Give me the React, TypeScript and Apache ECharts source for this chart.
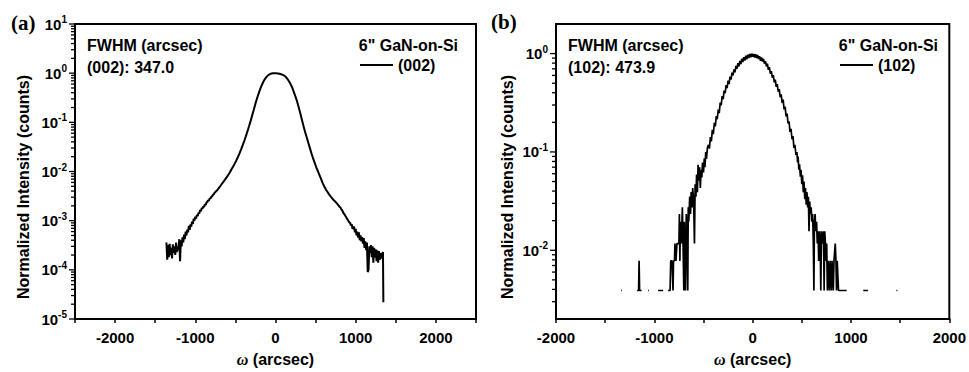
import React, { useEffect, useRef } from 'react';
import * as echarts from 'echarts';

// ---------- text ----------
const panelLetters = ['(a)', '(b)'];
const fwhmTitle = 'FWHM (arcsec)';
const fwhmValues = ['(002): 347.0', '(102): 473.9'];
const sampleName = '6" GaN-on-Si';
const seriesNames = ['(002)', '(102)'];
const yAxisTitle = 'Normalized Intensity (counts)';
const xAxisTitle = '{w|ω} (arcsec)';

// ---------- axes ----------
const xLabelValues = [-2000, -1000, 0, 1000, 2000];
const xRangeA = [-2500, 2500];
const xRangeB = [-2000, 2000];
const yRangeA = [1e-5, 10];
const yRangeB = [0.002, 2];
const yMajorTicksA = [1e-5, 1e-4, 1e-3, 1e-2, 1e-1, 1, 10];
const yMajorTicksB = [1e-2, 1e-1, 1];
const minorMultipliers = [2, 3, 4, 5, 6, 7, 8, 9];
const minorDecadesA = [1e-5, 1e-4, 1e-3, 1e-2, 1e-1, 1];
const minorDecadesB = [1e-3, 1e-2, 1e-1, 1];

// ---------- data: omega (arcsec), normalized intensity ----------
const rocking002: [number, number][] = [
  [-1360, 3.6e-4], [-1350, 1.6e-4], [-1340, 3.2e-4], [-1330, 1.8e-4], [-1320, 3.4e-4], [-1310, 2.0e-4],
  [-1300, 2.8e-4], [-1290, 1.7e-4], [-1280, 3.3e-4], [-1270, 2.2e-4], [-1260, 3.0e-4], [-1250, 2.0e-4],
  [-1240, 3.6e-4], [-1230, 2.3e-4], [-1220, 3.0e-4], [-1210, 2.5e-4], [-1200, 4.2e-4], [-1190, 1.5e-4],
  [-1180, 4.0e-4], [-1170, 3.0e-4], [-1160, 4.6e-4], [-1150, 3.6e-4], [-1140, 5.2e-4], [-1130, 4.2e-4],
  [-1120, 6.0e-4], [-1110, 5.0e-4], [-1100, 6.6e-4], [-1090, 5.8e-4], [-1080, 7.8e-4], [-1070, 6.5e-4],
  [-1060, 8.4e-4], [-1050, 7.6e-4], [-1040, 9.6e-4], [-1030, 8.6e-4], [-1020, 1.1e-3], [-1010, 1.0e-3],
  [-1000, 1.2e-3], [-990, 1.1e-3], [-980, 1.3e-3], [-970, 1.25e-3], [-960, 1.45e-3], [-950, 1.4e-3],
  [-940, 1.65e-3], [-930, 1.55e-3], [-920, 1.8e-3], [-910, 1.75e-3], [-900, 1.95e-3], [-890, 1.9e-3],
  [-880, 2.15e-3], [-870, 2.1e-3], [-860, 2.35e-3], [-850, 2.4e-3], [-840, 2.6e-3], [-830, 2.55e-3],
  [-820, 2.85e-3], [-810, 2.8e-3], [-800, 3.1e-3], [-790, 3.1e-3], [-780, 3.4e-3], [-770, 3.4e-3],
  [-760, 3.7e-3], [-750, 3.8e-3], [-740, 4.0e-3], [-730, 4.07e-3], [-710, 4.52e-3], [-690, 5.01e-3],
  [-670, 5.56e-3], [-650, 6.17e-3], [-630, 6.84e-3], [-610, 7.59e-3], [-590, 8.51e-3], [-570, 9.55e-3],
  [-550, 1.1e-2], [-530, 1.245e-2], [-510, 1.43e-2], [-490, 1.66e-2], [-470, 1.95e-2], [-450, 2.32e-2],
  [-430, 2.79e-2], [-410, 3.39e-2], [-390, 4.17e-2], [-370, 5.19e-2], [-350, 6.53e-2], [-330, 8.32e-2],
  [-310, 0.107], [-290, 0.14], [-270, 0.182], [-250, 0.24], [-230, 0.309], [-210, 0.389], [-190, 0.479],
  [-170, 0.575], [-150, 0.676], [-130, 0.767], [-110, 0.851], [-90, 0.912], [-70, 0.955], [-50, 0.984],
  [-30, 1.0], [-10, 1.0], [10, 1.0], [30, 0.989], [50, 0.973], [70, 0.951], [90, 0.923], [110, 0.891],
  [130, 0.832], [150, 0.759], [170, 0.676], [190, 0.589], [210, 0.501], [230, 0.407], [250, 0.331],
  [270, 0.263], [290, 0.2], [310, 0.151], [330, 0.112], [350, 0.0832], [370, 0.0631], [390, 0.049],
  [410, 0.038], [430, 0.0295], [450, 0.0229], [470, 0.0182], [490, 0.0148], [510, 0.012], [530, 0.01],
  [550, 0.0083], [570, 0.0069], [590, 0.00575], [610, 0.0049], [630, 0.00427], [650, 0.0038], [670, 0.00339],
  [690, 0.00309], [710, 0.00282], [730, 0.00257], [740, 0.0025], [750, 0.0024], [760, 0.0023], [770, 0.0022],
  [780, 0.0021], [790, 0.002], [800, 0.0019], [810, 0.00185], [820, 0.0017], [830, 0.00165], [840, 0.00152],
  [850, 0.0014], [860, 0.00135], [870, 0.00125], [880, 0.0012], [890, 0.0011], [900, 0.00105], [910, 0.00098],
  [920, 0.00092], [930, 0.0009], [940, 0.0008], [950, 0.00085], [960, 0.00068], [970, 0.00072], [980, 0.00076],
  [990, 0.00058], [1000, 0.00068], [1010, 0.0005], [1020, 0.0006], [1030, 0.00045], [1040, 0.00058],
  [1050, 0.0004], [1060, 0.0005], [1070, 0.00038], [1080, 0.00046], [1090, 0.00034], [1100, 0.00044],
  [1110, 0.00028], [1120, 0.00038], [1130, 0.00025], [1140, 0.00036], [1150, 0.00009], [1160, 0.0001],
  [1170, 0.0003], [1180, 0.00022], [1190, 0.00032], [1200, 0.00018], [1210, 0.0003], [1220, 0.00014],
  [1230, 0.00028], [1240, 0.00018], [1250, 0.00026], [1260, 0.00015], [1270, 0.00025], [1280, 0.00014],
  [1290, 0.00024], [1300, 0.00016], [1310, 0.00022], [1320, 0.00017], [1330, 0.00019], [1340, 0.00023],
  [1345, 0.000022],
];

const rocking102: [number, number | null][] = [
  [-1338, 0.0039], [-1330, 0.0039], [-1300, null],
  [-1175, 0.0039], [-1160, 0.0039], [-1155, 0.0078], [-1150, 0.0039], [-1130, 0.0039], [-1100, null],
  [-1064, 0.0039], [-1056, 0.0039], [-1000, null],
  [-962, 0.0039], [-910, 0.0039], [-890, null],
  [-860, 0.0039], [-840, 0.0039], [-833, 0.0078], [-820, 0.0078], [-810, 0.0039], [-805, 0.0078],
  [-795, 0.0078], [-790, 0.0117], [-780, 0.0078], [-770, 0.0117], [-760, 0.0117], [-750, 0.0117],
  [-745, 0.0234], [-740, 0.0078], [-735, 0.0195], [-725, 0.0117], [-715, 0.0273], [-710, 0.0156],
  [-700, 0.0039], [-695, 0.0195], [-688, 0.0078], [-683, 0.0039], [-675, 0.0234], [-668, 0.0156],
  [-660, 0.0039], [-655, 0.0273], [-650, 0.0195], [-640, 0.0352], [-632, 0.0234], [-625, 0.039],
  [-617, 0.0273], [-610, 0.043], [-600, 0.0313], [-592, 0.0117], [-585, 0.047], [-577, 0.035],
  [-570, 0.059], [-562, 0.039], [-555, 0.074], [-548, 0.051], [-540, 0.07], [-532, 0.043],
  [-525, 0.066], [-517, 0.055], [-510, 0.078], [-500, 0.062], [-492, 0.086], [-485, 0.07],
  [-477, 0.1], [-470, 0.085], [-460, 0.11],
  [-450, 0.118], [-440, 0.108], [-430, 0.142], [-420, 0.128], [-410, 0.168], [-400, 0.152], [-390, 0.198],
  [-380, 0.182], [-370, 0.232], [-360, 0.215], [-350, 0.27], [-340, 0.248], [-330, 0.318], [-320, 0.298],
  [-310, 0.37], [-300, 0.345], [-290, 0.42], [-280, 0.395], [-270, 0.478], [-260, 0.445], [-250, 0.53],
  [-240, 0.49], [-230, 0.585], [-220, 0.545], [-210, 0.64], [-200, 0.6], [-190, 0.69], [-180, 0.645],
  [-170, 0.75], [-160, 0.7], [-150, 0.8], [-140, 0.74], [-130, 0.845], [-120, 0.78], [-110, 0.885],
  [-100, 0.82], [-90, 0.92], [-80, 0.85], [-70, 0.95], [-60, 0.875], [-50, 0.975], [-40, 0.9], [-30, 0.99],
  [-20, 0.92], [-10, 1.0], [0, 0.93], [10, 0.99], [20, 0.915], [30, 0.985], [40, 0.9], [50, 0.97], [60, 0.88],
  [70, 0.94], [80, 0.845], [90, 0.915], [100, 0.83], [110, 0.885], [120, 0.79], [130, 0.84], [140, 0.74],
  [150, 0.79], [160, 0.685], [170, 0.73], [180, 0.625], [190, 0.665], [200, 0.57], [210, 0.605], [220, 0.51],
  [230, 0.545], [240, 0.46], [250, 0.49], [260, 0.41], [270, 0.435], [280, 0.36], [290, 0.385], [300, 0.315],
  [310, 0.34], [320, 0.27], [330, 0.29], [340, 0.23], [350, 0.245], [360, 0.195], [370, 0.205], [380, 0.16],
  [390, 0.172], [400, 0.135], [410, 0.145], [420, 0.11], [430, 0.118], [440, 0.093], [450, 0.1],
  [457, 0.078], [462, 0.09], [470, 0.066], [477, 0.075], [485, 0.056], [492, 0.066], [500, 0.047],
  [507, 0.058], [515, 0.039], [522, 0.05], [530, 0.033], [537, 0.043], [545, 0.029], [552, 0.039],
  [560, 0.0273], [567, 0.035], [573, 0.0156], [580, 0.0313], [587, 0.0234], [595, 0.0273], [602, 0.0195],
  [610, 0.0234], [617, 0.0117], [623, 0.0039], [628, 0.0195], [635, 0.0234], [642, 0.0156], [650, 0.0195],
  [657, 0.0117], [665, 0.0156], [672, 0.0078], [680, 0.0156], [687, 0.0117], [693, 0.0039], [700, 0.0156],
  [707, 0.0156], [713, 0.0117], [720, 0.0156], [727, 0.0039], [733, 0.0156], [740, 0.0117], [747, 0.0078],
  [753, 0.0117], [760, 0.0039], [767, 0.0078], [773, 0.0078], [780, 0.0039], [787, 0.0078], [793, 0.0078],
  [800, 0.0039], [807, 0.0078], [813, 0.0078], [820, 0.0039], [827, 0.0078], [833, 0.0078], [840, 0.0117],
  [847, 0.0078], [853, 0.0039], [860, 0.0078], [867, 0.0078], [873, 0.0039], [900, 0.0039], [930, 0.0039],
  [956, 0.0039], [1000, null],
  [1125, 0.0039], [1172, 0.0039], [1300, null],
  [1462, 0.0039], [1472, 0.0039],
];

const SANS = "'Liberation Sans', Arial, Helvetica, sans-serif";
const SERIF = "'Liberation Serif', 'Times New Roman', serif";

const decadeLabel = (v: number) => {
  const e = Math.log10(v);
  const r = Math.round(e);
  return Math.abs(e - r) < 1e-6 ? `{b|10}{s|${r}}` : '';
};

const buildTicks = (xMin: number, majors: number[], decades: number[], yMin: number, yMax: number) => {
  const out: number[][] = majors.map((v) => [xMin, v, 5]);
  decades.forEach((d) => minorMultipliers.forEach((m) => {
    const v = m * d;
    if (v > yMin && v < yMax) out.push([xMin, v, 3]);
  }));
  return out;
};

const tickRender = (params: any, api: any) => {
  const p = api.coord([api.value(0), api.value(1)]);
  const len = api.value(2);
  return {
    type: 'line',
    shape: { x1: p[0] - 1 - len, y1: p[1], x2: p[0], y2: p[1] },
    style: { stroke: '#000', lineWidth: 1.3 },
  };
};

const makeXAxis = (gridIndex: number, range: number[]) => ({
  type: 'value', gridIndex, min: range[0], max: range[1], interval: 500,
  axisLine: { onZero: false, lineStyle: { color: '#000', width: 2 } },
  axisTick: { show: true, length: 4, lineStyle: { color: '#000', width: 1.5 } },
  splitLine: { show: false },
  axisLabel: {
    formatter: (v: number) => (xLabelValues.includes(v) ? String(v) : ''),
    fontSize: 15, fontWeight: 'bold', fontFamily: SANS, color: '#000', margin: 11,
    showMinLabel: true, showMaxLabel: true, hideOverlap: false,
  },
  name: xAxisTitle, nameLocation: 'middle', nameGap: 32,
  nameTextStyle: {
    fontSize: 16, fontWeight: 'bold', fontFamily: SANS, color: '#000',
    rich: {
      w: { fontSize: 16, fontStyle: 'italic', fontFamily: SERIF, color: '#000' },
    },
  },
});

const makeYAxis = (gridIndex: number, range: number[]) => ({
  type: 'log', logBase: 10, gridIndex, min: range[0], max: range[1],
  axisLine: { onZero: false, lineStyle: { color: '#000', width: 2 } },
  axisTick: { show: false },
  splitLine: { show: false },
  axisLabel: {
    formatter: decadeLabel, margin: 8, color: '#000',
    rich: {
      b: { fontSize: 15, fontWeight: 'bold', fontFamily: SANS, color: '#000', lineHeight: 19 },
      s: { fontSize: 10, fontWeight: 'bold', fontFamily: SANS, color: '#000', verticalAlign: 'top', lineHeight: 11 },
    },
  },
});

const txt = (text: string, x: number, y: number, font: string, align = 'left', rotation = 0) => ({
  type: 'text', x, y, rotation, silent: true,
  style: { text, font, fill: '#000', align, textAlign: align, verticalAlign: 'middle', textVerticalAlign: 'middle' },
});

const legendCommon = {
  icon: 'rect', itemWidth: 33, itemHeight: 2, padding: 0, itemGap: 0, selectedMode: false,
  textStyle: { fontSize: 16, fontWeight: 'bold', fontFamily: SANS, color: '#000' },
};

export default function App() {
  const ref = useRef<HTMLDivElement>(null);
  useEffect(() => {
    if (!ref.current) return;
    const chart = echarts.init(ref.current, undefined, { renderer: 'svg' });
    const boldSans = `bold 16px ${SANS}`;
    chart.setOption({
      animation: false,
      backgroundColor: '#fff',
      grid: [
        { left: 75, top: 24, width: 401, height: 299, show: true, borderColor: '#000', borderWidth: 2, backgroundColor: 'transparent' },
        { left: 556, top: 24, width: 400, height: 299, show: true, borderColor: '#000', borderWidth: 2, backgroundColor: 'transparent' },
      ],
      xAxis: [makeXAxis(0, xRangeA), makeXAxis(1, xRangeB)],
      yAxis: [makeYAxis(0, yRangeA), makeYAxis(1, yRangeB)],
      legend: [
        { ...legendCommon, data: [seriesNames[0]], left: 360, top: 57 },
        { ...legendCommon, data: [seriesNames[1]], left: 840, top: 57 },
      ],
      series: [
        {
          type: 'line', name: seriesNames[0], xAxisIndex: 0, yAxisIndex: 0, data: rocking002,
          showSymbol: false, symbol: 'none', connectNulls: false,
          lineStyle: { color: '#000', width: 2 }, itemStyle: { color: '#000' },
        },
        {
          type: 'line', name: seriesNames[1], xAxisIndex: 1, yAxisIndex: 1, data: rocking102,
          showSymbol: false, symbol: 'none', connectNulls: false,
          lineStyle: { color: '#000', width: 1.7 }, itemStyle: { color: '#000' },
        },
        {
          type: 'custom', xAxisIndex: 0, yAxisIndex: 0, silent: true, clip: false,
          data: buildTicks(xRangeA[0], yMajorTicksA, minorDecadesA, yRangeA[0], yRangeA[1]),
          renderItem: tickRender,
        },
        {
          type: 'custom', xAxisIndex: 1, yAxisIndex: 1, silent: true, clip: false,
          data: buildTicks(xRangeB[0], yMajorTicksB, minorDecadesB, yRangeB[0], yRangeB[1]),
          renderItem: tickRender,
        },
      ],
      graphic: [
        txt(panelLetters[0], 11, 23, `bold 21px ${SERIF}`),
        txt(panelLetters[1], 491, 22, `bold 21px ${SERIF}`),
        txt(fwhmTitle, 87, 45, boldSans),
        txt(fwhmValues[0], 87, 67, boldSans),
        txt(fwhmTitle, 568, 45, boldSans),
        txt(fwhmValues[1], 568, 67, boldSans),
        txt(sampleName, 458, 45, boldSans, 'right'),
        txt(sampleName, 938, 45, boldSans, 'right'),
        txt(yAxisTitle, 23, 187, boldSans, 'center', Math.PI / 2),
        txt(yAxisTitle, 507, 187, boldSans, 'center', Math.PI / 2),
      ],
    });
    return () => chart.dispose();
  }, []);
  return <div ref={ref} style={{ position: 'absolute', left: 0, top: 0, width: 969, height: 372 }} />;
}
